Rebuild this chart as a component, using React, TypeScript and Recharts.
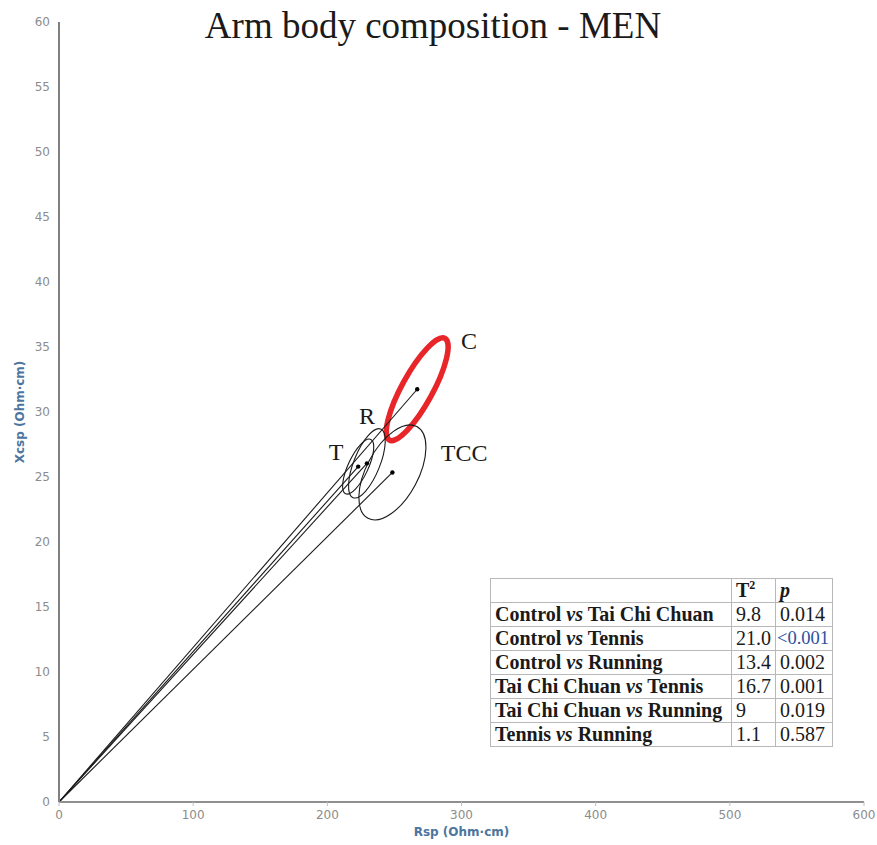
import * as React from "react";
import * as RC from "recharts";
import { Customized, ReferenceLine, Scatter, ScatterChart, XAxis, YAxis } from "recharts";

// group means (Rsp, Xcsp) in Ohm·cm
const groups = ["C", "TCC", "T", "R"];
const rspMean = [267, 248.5, 223, 229.5];
const xcspMean = [31.75, 25.35, 25.8, 26.05];

// 95% confidence ellipses: semi-axis vectors in data units
const majorRsp = [20.7, 18.2, 9.45, 10.3];
const majorXcsp = [3.91, 3.53, 2.09, 2.64];
const minorRsp = [10.1, 17.1, 6.75, 9.0];
const minorXcsp = [-0.57, -0.94, -0.33, -0.37];

// where each group name sits
const labelRsp = [305.6, 302, 206.5, 229.6];
const labelXcsp = [35.45, 26.85, 26.9, 29.7];

const xTicks = [0, 100, 200, 300, 400, 500, 600];
const yTicks = [0, 5, 10, 15, 20, 25, 30, 35, 40, 45, 50, 55, 60];
const X_DOMAIN: [number, number] = [0, 600];
const Y_DOMAIN: [number, number] = [0, 60];

// Hotelling T² comparisons
const comparisonA = ["Control", "Control", "Control", "Tai Chi Chuan", "Tai Chi Chuan", "Tennis"];
const comparisonB = ["Tai Chi Chuan", "Tennis", "Running", "Tennis", "Running", "Running"];
const t2Values = ["9.8", "21.0", "13.4", "16.7", "9", "1.1"];
const pValues = ["0.014", "<0.001", "0.002", "0.001", "0.019", "0.587"];

const W = 877;
const H = 845;
const MARGIN = { top: 22, right: 13, bottom: 13, left: 0 };
const Y_AXIS_W = 59;
const X_AXIS_H = 30;

const points = groups.map((g, i) => ({ group: g, rsp: rspMean[i], xcsp: xcspMean[i] }));

const SERIF = "'Liberation Serif', 'Times New Roman', serif";
const SANS = "'DejaVu Sans', Verdana, sans-serif";

const usePlotAreaHook: () => any = (RC as any).usePlotArea ?? (() => undefined);
const useOffsetHook: () => any = (RC as any).useOffset ?? (() => undefined);

function usePlotScale() {
  const plot = usePlotAreaHook();
  const off = useOffsetHook();
  let x0 = MARGIN.left + Y_AXIS_W;
  let y0 = MARGIN.top;
  let pw = W - x0 - MARGIN.right;
  let ph = H - MARGIN.top - MARGIN.bottom - X_AXIS_H;
  if (plot && plot.width) {
    x0 = plot.x;
    y0 = plot.y;
    pw = plot.width;
    ph = plot.height;
  } else if (off && off.left != null) {
    x0 = off.left;
    y0 = off.top;
    pw = W - off.left - off.right;
    ph = H - off.top - off.bottom;
  }
  const kx = pw / (X_DOMAIN[1] - X_DOMAIN[0]);
  const ky = ph / (Y_DOMAIN[1] - Y_DOMAIN[0]);
  return {
    x: (v: number) => x0 + (v - X_DOMAIN[0]) * kx,
    y: (v: number) => y0 + ph - (v - Y_DOMAIN[0]) * ky,
    kx,
    ky,
    x0,
    y0,
    pw,
    ph,
  };
}

function EllipseLayer() {
  const s = usePlotScale();
  return (
    <g>
      {groups.map((g, i) => {
        const a = s.kx * majorRsp[i];
        const b = -s.ky * majorXcsp[i];
        const c = s.kx * minorRsp[i];
        const d = -s.ky * minorXcsp[i];
        const isControl = g === "C";
        return (
          <ellipse
            key={g}
            cx={0}
            cy={0}
            rx={1}
            ry={1}
            fill="none"
            stroke={isControl ? "#e8262a" : "#1a1a1a"}
            strokeWidth={isControl ? 5.5 : 1.1}
            vectorEffect="non-scaling-stroke"
            transform={`matrix(${a} ${b} ${c} ${d} ${s.x(rspMean[i])} ${s.y(xcspMean[i])})`}
          />
        );
      })}
      {groups.map((g, i) => (
        <text
          key={`lbl-${g}`}
          x={s.x(labelRsp[i])}
          y={s.y(labelXcsp[i])}
          textAnchor="middle"
          dominantBaseline="central"
          fontFamily={SERIF}
          fontSize={24}
          fill="#1a1a1a"
        >
          {g}
        </text>
      ))}
      <text
        x={s.x0 + s.pw / 2}
        y={832}
        textAnchor="middle"
        dominantBaseline="central"
        fontFamily={SANS}
        fontWeight="bold"
        fontSize={12}
        fill="#4d759e"
      >
        Rsp (Ohm·cm)
      </text>
      <text
        transform={`translate(20 ${s.y0 + s.ph / 2}) rotate(-90)`}
        textAnchor="middle"
        dominantBaseline="central"
        fontFamily={SANS}
        fontWeight="bold"
        fontSize={12}
        fill="#4d759e"
      >
        Xcsp (Ohm·cm)
      </text>
      <text x={433} y={38} textAnchor="middle" fontFamily={SERIF} fontSize={37} fill="#1a1a1a">
        Arm body composition - MEN
      </text>
    </g>
  );
}

const cell: React.CSSProperties = {
  border: "1px solid #b8b8b8",
  padding: "0 4px",
  height: 23,
  lineHeight: "23px",
  whiteSpace: "nowrap",
  textAlign: "left",
};

function ComparisonTable() {
  return (
    <table
      style={{
        position: "absolute",
        left: 490,
        top: 578,
        width: 342,
        borderCollapse: "collapse",
        fontFamily: SERIF,
        fontSize: 20,
        color: "#1a1a1a",
        background: "#fff",
        tableLayout: "fixed",
        border: "1px solid #9a9a9a",
      }}
    >
      <colgroup>
        <col style={{ width: 241 }} />
        <col style={{ width: 44 }} />
        <col style={{ width: 57 }} />
      </colgroup>
      <tbody>
        <tr>
          <td style={cell}></td>
          <td style={{ ...cell, fontWeight: "bold" }}>
            T<sup style={{ fontSize: 12, lineHeight: 0 }}>2</sup>
          </td>
          <td style={{ ...cell, fontWeight: "bold", fontStyle: "italic" }}>p</td>
        </tr>
        {comparisonA.map((a, i) => (
          <tr key={i}>
            <td style={{ ...cell, fontWeight: "bold" }}>
              {a} <i>vs</i> {comparisonB[i]}
            </td>
            <td style={cell}>{t2Values[i]}</td>
            <td
              style={
                pValues[i].startsWith("<")
                  ? { ...cell, padding: "0 1px", fontSize: 18.5, color: "#2b4f9e" }
                  : cell
              }
            >
              {pValues[i]}
            </td>
          </tr>
        ))}
      </tbody>
    </table>
  );
}

export default function App() {
  return (
    <div style={{ position: "absolute", left: 0, top: 0, width: W, height: H, background: "#fff" }}>
      <ScatterChart width={W} height={H} margin={MARGIN}>
        <XAxis
          type="number"
          dataKey="rsp"
          domain={X_DOMAIN}
          ticks={xTicks}
          height={X_AXIS_H}
          stroke="#8f8f8f"
          strokeWidth={2}
          tickSize={4}
          tickMargin={4}
          tickLine={{ stroke: "#c0c0c0", strokeWidth: 1 }}
          tick={{ fill: "#8c8c8c", fontSize: 12, fontFamily: SANS }}
          allowDataOverflow
        />
        <YAxis
          type="number"
          dataKey="xcsp"
          domain={Y_DOMAIN}
          ticks={yTicks}
          width={Y_AXIS_W}
          stroke="#808080"
          strokeWidth={2}
          tickSize={0}
          tickMargin={9}
          tickLine={false}
          tick={{ fill: "#8c8c8c", fontSize: 12, fontFamily: SANS }}
          allowDataOverflow
        />
        {points.map((p) => (
          <ReferenceLine
            key={`ray-${p.group}`}
            segment={[
              { x: 0, y: 0 },
              { x: p.rsp, y: p.xcsp },
            ]}
            stroke="#1a1a1a"
            strokeWidth={1.1}
          />
        ))}
        <Customized component={<EllipseLayer />} />
        <Scatter
          data={points}
          fill="#000"
          isAnimationActive={false}
          shape={(props: any) => <circle cx={props.cx} cy={props.cy} r={2.2} fill="#000" />}
        />
      </ScatterChart>
      <ComparisonTable />
    </div>
  );
}
